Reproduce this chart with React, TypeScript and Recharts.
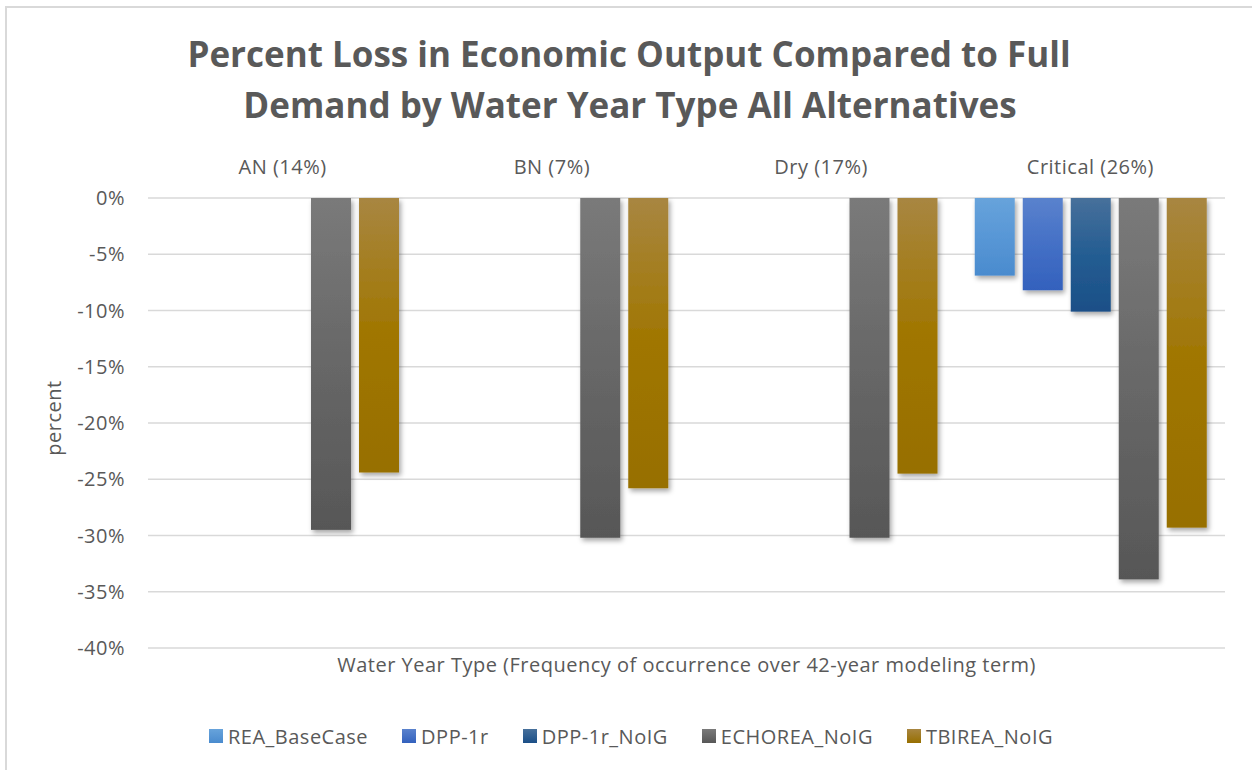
import React from 'react';
import { BarChart, Bar, XAxis, YAxis, CartesianGrid, Legend } from 'recharts';

const categories = ['AN (14%)', 'BN (7%)', 'Dry (17%)', 'Critical (26%)'];
const reaBaseCase = [0, 0, 0, -6.9];
const dpp1r = [0, 0, 0, -8.2];
const dpp1rNoIG = [0, 0, 0, -10.1];
const echoreaNoIG = [-29.5, -30.2, -30.2, -33.9];
const tbireaNoIG = [-24.4, -25.8, -24.5, -29.3];
const yTicks = [0, -5, -10, -15, -20, -25, -30, -35, -40];

const series = [
  { key: 'REA_BaseCase', values: reaBaseCase, top: '#67a3db', mid: '#5897d6', bottom: '#4a8bce' },
  { key: 'DPP-1r', values: dpp1r, top: '#5a82cd', mid: '#4470c6', bottom: '#3361bd' },
  { key: 'DPP-1r_NoIG', values: dpp1rNoIG, top: '#47709b', mid: '#245d92', bottom: '#1b4f87' },
  { key: 'ECHOREA_NoIG', values: echoreaNoIG, top: '#7a7a7a', mid: '#676767', bottom: '#575757' },
  { key: 'TBIREA_NoIG', values: tbireaNoIG, top: '#a88641', mid: '#a07600', bottom: '#976f00' },
];

const data = categories.map((c, i) => {
  const row: Record<string, any> = { category: c };
  series.forEach((s) => { row[s.key] = s.values[i]; });
  return row;
});

const FONT = '"Open Sans", Lato, sans-serif';
const TEXT = '#595959';
const FS = 20;
const LS = 0.5;

const BarShape = (props: any) => {
  const { x, y, width, height, gradId } = props;
  if (!height || Math.abs(height) < 0.01) return null;
  const yy = height < 0 ? y + height : y;
  const hh = Math.abs(height);
  return <rect x={x} y={yy} width={width} height={hh} fill={`url(#${gradId})`} filter="url(#barShadow)" />;
};

const LegendContent = () => (
  <div style={{ display: 'flex', justifyContent: 'center', alignItems: 'center', height: 30, fontFamily: FONT, fontSize: FS, letterSpacing: LS, color: TEXT, paddingLeft: 10, whiteSpace: 'nowrap' }}>
    {series.map((s, i) => (
      <div key={s.key} style={{ display: 'flex', alignItems: 'center', marginLeft: i === 0 ? 0 : 34 }}>
        <div style={{ width: 14, height: 14, background: `linear-gradient(${s.top}, ${s.bottom})`, marginRight: 5 }} />
        <span>{s.key}</span>
      </div>
    ))}
  </div>
);

const textStyle = { fontFamily: FONT, fontSize: FS, fill: TEXT, letterSpacing: LS };

export default function App() {
  return (
    <div style={{ position: 'absolute', left: 0, top: 0, width: 1252, height: 770, background: '#fff', overflow: 'hidden' }}>
      <div style={{ position: 'absolute', left: 5, top: 6, width: 1300, height: 900, border: '2px solid #d9d9d9', boxSizing: 'border-box' }} />
      <svg width={1252} height={140} style={{ position: 'absolute', left: 0, top: 0 }}>
        <text x={629} y={67} textAnchor="middle" fontFamily={FONT} fontWeight={700} fontSize={35} fill={TEXT}>
          Percent Loss in Economic Output Compared to Full
        </text>
        <text x={630} y={118} textAnchor="middle" fontFamily={FONT} fontWeight={700} fontSize={35} fill={TEXT}>
          Demand by Water Year Type All Alternatives
        </text>
      </svg>
      <div style={{ position: 'absolute', left: 0, top: 0 }}>
        <BarChart width={1252} height={770} data={data} margin={{ top: 140, right: 27, bottom: 19, left: 0 }} barSize={40} barGap={8}>
          <defs>
            {series.map((s, i) => (
              <linearGradient key={s.key} id={`grad${i}`} x1="0" y1="0" x2="0" y2="1">
                <stop offset="0%" stopColor={s.top} />
                <stop offset="50%" stopColor={s.mid} />
                <stop offset="100%" stopColor={s.bottom} />
              </linearGradient>
            ))}
            <filter id="barShadow" x="-30%" y="-10%" width="160%" height="130%">
              <feDropShadow dx="2" dy="3" stdDeviation="2.5" floodColor="#000" floodOpacity="0.35" />
            </filter>
          </defs>
          <CartesianGrid horizontal vertical={false} stroke="#d9d9d9" strokeWidth={1.5} />
          <XAxis xAxisId="top" orientation="top" dataKey="category" height={58} axisLine={false} tickLine={false} tickSize={0} tickMargin={24}
            tick={textStyle} />
          <XAxis dataKey="category" height={73} axisLine={false} tickLine={false} tick={false}
            label={{ value: 'Water Year Type (Frequency of occurrence over 42-year modeling term)', position: 'insideTop', offset: 10, ...textStyle }} />
          <YAxis domain={[-40, 0]} ticks={yTicks} interval={0} width={148} axisLine={false} tickLine={false} tickSize={0} tickMargin={23}
            tickFormatter={(v: number) => `${v}%`} tick={textStyle}
            label={{ value: 'percent', angle: -90, position: 'insideLeft', offset: 54, dy: -5, ...textStyle, style: { textAnchor: 'middle' } }} />
          <Legend verticalAlign="bottom" content={<LegendContent />} wrapperStyle={{ left: 0, width: 1252, height: 30, bottom: 19 }} />
          {series.map((s, i) => (
            <Bar key={s.key} dataKey={s.key} name={s.key} fill={s.mid} isAnimationActive={false}
              shape={(p: any) => <BarShape {...p} gradId={`grad${i}`} />} />
          ))}
        </BarChart>
      </div>
    </div>
  );
}
